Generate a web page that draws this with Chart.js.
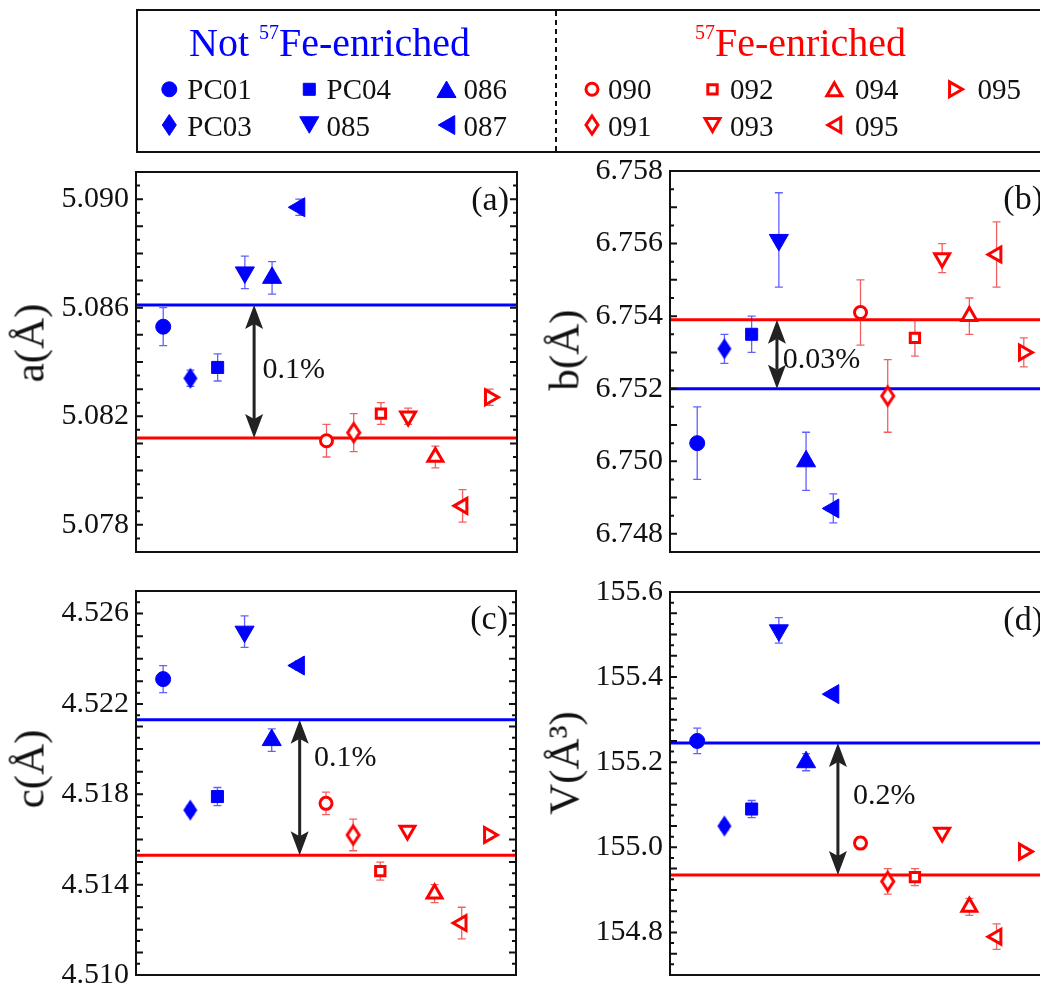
<!DOCTYPE html>
<html lang="en">
<head>
<meta charset="utf-8">
<title>Lattice parameters of 57Fe-enriched and non-enriched samples</title>
<script src="https://cdn.jsdelivr.net/npm/chart.js@4.4.1/dist/chart.umd.min.js"></script>
<style>
  html, body { margin: 0; padding: 0; background: #fff; }
  body { position: relative; width: 1040px; height: 986px; overflow: hidden;
         font-family: "Liberation Serif", "Times New Roman", serif; color: #111; }
  #legendBox { position: absolute; left: 136px; top: 9px; width: 960px; height: 144px;
               border: 2px solid #111; box-sizing: border-box; }
  #legendMarks { position: absolute; left: 0; top: 0; }
  .lg { position: absolute; font-size: 29px; line-height: 1; white-space: nowrap; color: #111; }
  .lgTitle { position: absolute; font-size: 40px; line-height: 1; white-space: nowrap; }
  .lgTitle sup { font-size: 20px; line-height: 0; position: relative; top: -17px; vertical-align: baseline; }
  .panel { position: absolute; }
  .ytitle { position: absolute; font-size: 43px; line-height: 1; white-space: nowrap; color: #111;
            transform: translate(-50%, -50%) rotate(-90deg); }
</style>
</head>
<body>
<div id="legendBox"></div>
<canvas id="legendMarks" width="1040" height="160"></canvas>
<div class="lgTitle" style="left:189px; top:23px; color:#0000ff">Not <sup>57</sup>Fe-enriched</div>
<div class="lgTitle" style="left:695px; top:23px; color:#ff0000"><sup>57</sup>Fe-enriched</div>

<script>
// ---------------- data ----------------
const samples = ['PC01', 'PC03', 'PC04', '085', '086', '087',
                 '090', '091', '092', '093', '094', '095', '095'];
const groupSizes = [6, 7];               // not enriched, 57Fe-enriched
const groupNames = ['Not 57Fe-enriched', '57Fe-enriched'];
const markers = ['circle', 'diamond', 'square', 'down', 'up', 'left',
                 'circle', 'diamond', 'square', 'down', 'up', 'left', 'right'];

const aValues = [5.0853, 5.0834, 5.0838, 5.0873, 5.0871, 5.0897, 5.0811, 5.0814, 5.0821, 5.0820, 5.0805, 5.0787, 5.0827];
const aErrors = [0.0007, 0.0003, 0.0005, 0.0006, 0.0006, 0.0003, 0.0006, 0.0007, 0.0004, 0.0003, 0.0004, 0.0006, 0.0003];
const aMeans  = [5.0861, 5.0812];
const aTicks  = [5.078, 5.082, 5.086, 5.090];

const bValues = [6.7505, 6.7531, 6.7535, 6.7561, 6.7500, 6.7487, 6.7541, 6.7518, 6.7534, 6.7556, 6.7540, 6.7557, 6.7530];
const bErrors = [0.0010, 0.0004, 0.0005, 0.0013, 0.0008, 0.0004, 0.0009, 0.0010, 0.0005, 0.0004, 0.0005, 0.0009, 0.0004];
const bMeans  = [6.7520, 6.7539];
const bTicks  = [6.748, 6.750, 6.752, 6.754, 6.756, 6.758];

const cValues = [4.5231, 4.5173, 4.5179, 4.5252, 4.5204, 4.5237, 4.5176, 4.5162, 4.5146, 4.5164, 4.5136, 4.5123, 4.5162];
const cErrors = [0.0006, 0.0002, 0.0004, 0.0007, 0.0005, 0.0002, 0.0005, 0.0007, 0.0004, 0.0001, 0.0004, 0.0007, 0.0002];
const cMeans  = [4.5213, 4.5153];
const cTicks  = [4.510, 4.514, 4.518, 4.522, 4.526];

const vValues = [155.25, 155.05, 155.09, 155.51, 155.20, 155.36, 155.01, 154.92, 154.93, 155.035, 154.86, 154.79, 154.99];
const vErrors = [0.03, 0.01, 0.02, 0.03, 0.02, 0.01, 0.015, 0.03, 0.02, 0.01, 0.02, 0.03, 0.01];
const vMeans  = [155.245, 154.935];
const vTicks  = [154.8, 155.0, 155.2, 155.4, 155.6];

const gapLabels = ['0.1%', '0.03%', '0.1%', '0.2%'];

// ---------------- styling ----------------
const BLUE = '#0000ff';
const RED = '#ff0000';
const INK = '#111111';
const SERIF = '"Liberation Serif", "Times New Roman", serif';

const filledSize = { circle: 7.5, square: 8.5, tri: 11, diamond: [14, 21] };
const openSize   = { circle: 6, square: 6.6, tri: 8.6, diamond: [12, 18], lw: 3 };

const panels = [
  { letter: '(a)', axisTitle: 'a(Å)', values: aValues, errors: aErrors, means: aMeans, ticks: aTicks, gap: gapLabels[0],
    min: 5.077, max: 5.091, digits: 3, minorStep: 0.0005, majorStep: 0.001,
    area: { left: 136, top: 172, right: 517, bottom: 552 }, titleAt: [29, 343],
    arrowX: 4.34, gapTextX: 4.65, gapTextY: 5.0837 },
  { letter: '(b)', axisTitle: 'b(Å)', values: bValues, errors: bErrors, means: bMeans, ticks: bTicks, gap: gapLabels[1],
    min: 6.7475, max: 6.758, digits: 3, minorStep: 0.0005, majorStep: 0.001,
    area: { left: 670, top: 171, right: 1051, bottom: 552 }, titleAt: [564, 350],
    arrowX: 3.93, gapTextX: 4.14, gapTextY: 6.7528 },
  { letter: '(c)', axisTitle: 'c(Å)', values: cValues, errors: cErrors, means: cMeans, ticks: cTicks, gap: gapLabels[2],
    min: 4.510, max: 4.527, digits: 3, minorStep: 0.0005, majorStep: 0.001,
    area: { left: 136, top: 591, right: 516, bottom: 975 }, titleAt: [29, 769],
    arrowX: 6.03, gapTextX: 6.56, gapTextY: 4.5196 },
  { letter: '(d)', axisTitle: 'V(Å³)', values: vValues, errors: vErrors, means: vMeans, ticks: vTicks, gap: gapLabels[3],
    min: 154.7, max: 155.6, digits: 1, minorStep: 0.025, majorStep: 0.05,
    area: { left: 670, top: 592, right: 1051, bottom: 975 }, titleAt: [564, 763],
    arrowX: 6.17, gapTextX: 6.72, gapTextY: 155.12 }
];

// ---------------- marker helpers ----------------
function diamondImage(w, h, fill, stroke, lw) {
  const c = document.createElement('canvas');
  c.width = Math.ceil(w + lw + 4);
  c.height = Math.ceil(h + lw + 4);
  const ctx = c.getContext('2d');
  const cx = c.width / 2, cy = c.height / 2;
  ctx.beginPath();
  ctx.moveTo(cx, cy - h / 2);
  ctx.lineTo(cx + w / 2, cy);
  ctx.lineTo(cx, cy + h / 2);
  ctx.lineTo(cx - w / 2, cy);
  ctx.closePath();
  ctx.fillStyle = fill;
  ctx.fill();
  if (lw) {
    ctx.lineWidth = lw;
    ctx.strokeStyle = stroke;
    ctx.lineJoin = 'miter';
    ctx.stroke();
  }
  return c;
}
const diamondFilled = diamondImage(filledSize.diamond[0], filledSize.diamond[1], BLUE, BLUE, 0);
const diamondOpen = diamondImage(openSize.diamond[0], openSize.diamond[1], '#ffffff', RED, openSize.lw);

const rotationOf = { circle: 0, square: 0, diamond: 0, up: 0, right: 90, down: 180, left: 270 };

function chartStyle(shape, g) {
  if (shape === 'circle') return 'circle';
  if (shape === 'square') return 'rect';
  if (shape === 'diamond') return g === 0 ? diamondFilled : diamondOpen;
  return 'triangle';
}
function radiusOf(shape, g) {
  const s = g === 0 ? filledSize : openSize;
  if (shape === 'circle') return s.circle;
  if (shape === 'square') return s.square;
  if (shape === 'diamond') return s.diamond[1] / 2;
  return s.tri;
}

function groupDataset(p, g) {
  const start = g === 0 ? 0 : groupSizes[0];
  const idx = Array.from({ length: groupSizes[g] }, (_, k) => start + k);
  return {
    label: groupNames[g],
    group: g,
    data: idx.map(i => ({ x: i + 1, y: p.values[i] })),
    showLine: false,
    pointStyle: idx.map(i => chartStyle(markers[i], g)),
    pointRotation: idx.map(i => rotationOf[markers[i]]),
    pointRadius: idx.map(i => radiusOf(markers[i], g)),
    pointBackgroundColor: g === 0 ? BLUE : '#ffffff',
    pointBorderColor: g === 0 ? BLUE : RED,
    pointBorderWidth: g === 0 ? 1 : openSize.lw,
    order: 0
  };
}

function meanLine(value, color) {
  return {
    data: [{ x: 0, y: value }, { x: 14, y: value }],
    showLine: true,
    borderColor: color,
    borderWidth: 3,
    pointRadius: 0,
    order: 1
  };
}

function drawDoubleArrow(ctx, x, yTop, yBot) {
  const headLen = 24, half = 9, notch = 5;
  ctx.save();
  ctx.strokeStyle = '#222';
  ctx.fillStyle = '#222';
  ctx.lineWidth = 3;
  ctx.beginPath();
  ctx.moveTo(x, yTop + headLen - notch);
  ctx.lineTo(x, yBot - headLen + notch);
  ctx.stroke();
  ctx.beginPath();
  ctx.moveTo(x, yTop);
  ctx.lineTo(x + half, yTop + headLen);
  ctx.lineTo(x, yTop + headLen - notch);
  ctx.lineTo(x - half, yTop + headLen);
  ctx.closePath();
  ctx.fill();
  ctx.beginPath();
  ctx.moveTo(x, yBot);
  ctx.lineTo(x + half, yBot - headLen);
  ctx.lineTo(x, yBot - headLen + notch);
  ctx.lineTo(x - half, yBot - headLen);
  ctx.closePath();
  ctx.fill();
  ctx.restore();
}

// error bars, frame, inward ticks, gap arrow and panel letter
function makeDecor(p) {
  return {
    id: 'panelDecor',
    beforeDatasetDraw(chart, args) {
      const ds = chart.data.datasets[args.index];
      if (ds.group === undefined) return;
      const { ctx } = chart;
      const xs = chart.scales.x, ys = chart.scales.y;
      const start = ds.group === 0 ? 0 : groupSizes[0];
      ctx.save();
      ctx.strokeStyle = ds.group === 0 ? 'rgba(30,30,255,0.7)' : 'rgba(235,30,30,0.7)';
      ctx.lineWidth = 1.3;
      for (let k = 0; k < groupSizes[ds.group]; k++) {
        const i = start + k;
        const px = xs.getPixelForValue(i + 1);
        const y1 = ys.getPixelForValue(p.values[i] + p.errors[i]);
        const y2 = ys.getPixelForValue(p.values[i] - p.errors[i]);
        ctx.beginPath();
        ctx.moveTo(px, y1); ctx.lineTo(px, y2);
        ctx.moveTo(px - 4, y1); ctx.lineTo(px + 4, y1);
        ctx.moveTo(px - 4, y2); ctx.lineTo(px + 4, y2);
        ctx.stroke();
      }
      ctx.restore();
    },
    afterDatasetsDraw(chart) {
      const { ctx, chartArea: ca } = chart;
      const xs = chart.scales.x, ys = chart.scales.y;
      ctx.save();
      // frame
      ctx.strokeStyle = INK;
      ctx.lineWidth = 2;
      ctx.strokeRect(ca.left, ca.top, ca.right - ca.left, ca.bottom - ca.top);
      // inward ticks on both vertical edges
      const n = Math.round((p.max - p.min) / p.minorStep);
      ctx.beginPath();
      for (let k = 0; k <= n; k++) {
        const v = p.min + k * p.minorStep;
        const r = v / p.majorStep;
        const len = Math.abs(r - Math.round(r)) < 1e-4 ? 7 : 4;
        const py = ys.getPixelForValue(v);
        ctx.moveTo(ca.left, py); ctx.lineTo(ca.left + len, py);
        ctx.moveTo(ca.right, py); ctx.lineTo(ca.right - len, py);
      }
      ctx.stroke();
      // difference between the two group means
      const yA = ys.getPixelForValue(Math.max(p.means[0], p.means[1]));
      const yB = ys.getPixelForValue(Math.min(p.means[0], p.means[1]));
      drawDoubleArrow(ctx, xs.getPixelForValue(p.arrowX), yA, yB);
      ctx.fillStyle = INK;
      ctx.font = '30px ' + SERIF;
      ctx.textAlign = 'left';
      ctx.textBaseline = 'middle';
      ctx.fillText(p.gap, xs.getPixelForValue(p.gapTextX), ys.getPixelForValue(p.gapTextY));
      // panel letter
      ctx.font = '34px ' + SERIF;
      ctx.textAlign = 'right';
      ctx.fillText(p.letter, ca.right - 8, ca.top + 29);
      ctx.restore();
    }
  };
}

// ---------------- panels ----------------
const AXIS_W = 136, PAD_TOP = 34, PAD_RIGHT = 24, PAD_BOTTOM = 34;

panels.forEach(p => {
  const cv = document.createElement('canvas');
  const W = p.area.right - p.area.left + AXIS_W + PAD_RIGHT;
  const H = p.area.bottom - p.area.top + PAD_TOP + PAD_BOTTOM;
  cv.width = W;
  cv.height = H;
  cv.className = 'panel';
  cv.style.left = (p.area.left - AXIS_W) + 'px';
  cv.style.top = (p.area.top - PAD_TOP) + 'px';
  cv.style.width = W + 'px';
  cv.style.height = H + 'px';
  document.body.appendChild(cv);

  new Chart(cv, {
    type: 'scatter',
    data: {
      datasets: [
        groupDataset(p, 0),
        groupDataset(p, 1),
        meanLine(p.means[0], BLUE),
        meanLine(p.means[1], RED)
      ]
    },
    options: {
      responsive: false,
      maintainAspectRatio: false,
      devicePixelRatio: 1,
      animation: false,
      events: [],
      layout: { padding: { left: 0, top: PAD_TOP, right: PAD_RIGHT, bottom: PAD_BOTTOM } },
      plugins: { legend: { display: false }, tooltip: { enabled: false }, title: { display: false } },
      scales: {
        x: { type: 'linear', min: 0, max: 14, display: false },
        y: {
          type: 'linear',
          min: p.min,
          max: p.max,
          afterFit(scale) { scale.width = AXIS_W; },
          afterBuildTicks(scale) { scale.ticks = p.ticks.map(v => ({ value: v })); },
          grid: { display: false, drawTicks: false },
          border: { display: false },
          ticks: {
            autoSkip: false,
            padding: 7,
            color: INK,
            font: { family: SERIF, size: 30 },
            callback: v => Number(v).toFixed(p.digits)
          }
        }
      }
    },
    plugins: [makeDecor(p)]
  });

  const t = document.createElement('div');
  t.className = 'ytitle';
  t.textContent = p.axisTitle;
  t.style.left = p.titleAt[0] + 'px';
  t.style.top = p.titleAt[1] + 'px';
  document.body.appendChild(t);
});

// ---------------- legend ----------------
const legendLayout = [
  { markerX: [169.3, 309.3, 446.5], textX: [187.3, 326.5, 463.5] },
  { markerX: [592, 712.5, 834.3, 956], textX: [608, 730, 855, 977.5] }
];
const legendRowY = [89.3, 125];
const legendRowTop = [74.7, 112.4];

function drawLegendMarker(ctx, shape, x, y, g) {
  const s = g === 0 ? filledSize : openSize;
  const fill = g === 0 ? BLUE : '#ffffff';
  const stroke = g === 0 ? BLUE : RED;
  ctx.beginPath();
  if (shape === 'circle') {
    ctx.arc(x, y, s.circle, 0, Math.PI * 2);
  } else if (shape === 'square') {
    const h = s.square * Math.SQRT1_2;
    ctx.rect(x - h, y - h, 2 * h, 2 * h);
  } else if (shape === 'diamond') {
    const [w, h] = s.diamond;
    ctx.moveTo(x, y - h / 2); ctx.lineTo(x + w / 2, y);
    ctx.lineTo(x, y + h / 2); ctx.lineTo(x - w / 2, y);
  } else {
    const r = s.tri;
    const rot = rotationOf[shape] * Math.PI / 180;
    // shift so the triangle's bounding box is centred on (x, y)
    const cx = x - Math.sin(rot) * r * 0.25;
    const cy = y + Math.cos(rot) * r * 0.25;
    for (let k = 0; k < 3; k++) {
      const a = rot + k * 2 * Math.PI / 3;
      const px = cx + Math.sin(a) * r, py = cy - Math.cos(a) * r;
      if (k) ctx.lineTo(px, py); else ctx.moveTo(px, py);
    }
  }
  ctx.closePath();
  ctx.fillStyle = fill;
  ctx.fill();
  ctx.lineWidth = g === 0 ? 1 : s.lw;
  ctx.strokeStyle = stroke;
  ctx.stroke();
}

(function drawLegend() {
  const lc = document.getElementById('legendMarks');
  const ctx = lc.getContext('2d');
  // dashed divider between the two groups
  ctx.save();
  ctx.strokeStyle = INK;
  ctx.lineWidth = 2;
  ctx.setLineDash([5, 4]);
  ctx.beginPath();
  ctx.moveTo(556, 11);
  ctx.lineTo(556, 152);
  ctx.stroke();
  ctx.restore();

  let i = 0;
  [0, 1].forEach(g => {
    for (let k = 0; k < groupSizes[g]; k++, i++) {
      const col = Math.floor(k / 2), row = k % 2;
      const lay = legendLayout[g];
      drawLegendMarker(ctx, markers[i], lay.markerX[col], legendRowY[row], g);
      const d = document.createElement('div');
      d.className = 'lg';
      d.textContent = samples[i];
      d.style.left = lay.textX[col] + 'px';
      d.style.top = legendRowTop[row] + 'px';
      document.body.appendChild(d);
    }
  });
})();
</script>
</body>
</html>
